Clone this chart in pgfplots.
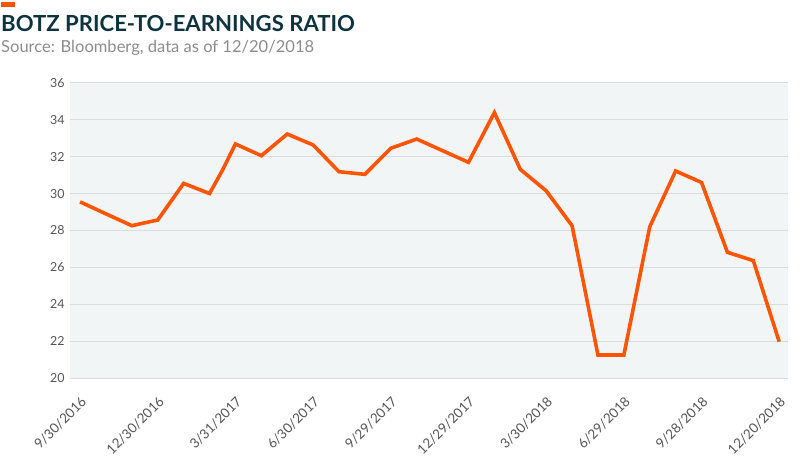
\documentclass[border=0pt]{standalone}
\usepackage{fontspec}
\setmainfont{Lato}
\usepackage{pgfplots}
\pgfplotsset{compat=1.18}
\definecolor{botzorange}{RGB}{255,85,0}
\definecolor{titleteal}{RGB}{14,51,62}
\definecolor{srcgrey}{RGB}{140,140,140}
\definecolor{tickgrey}{RGB}{85,85,85}
\definecolor{plotbg}{RGB}{242,245,246}
\definecolor{gridgrey}{RGB}{218,221,223}

\begin{document}
\begin{tikzpicture}[x=1bp,y=1bp]
\useasboundingbox (0,0) rectangle (800,471);
\fill[botzorange] (1,464) rectangle (15,469);
\node[anchor=base west, inner sep=0pt, text=titleteal, font=\fontsize{22.2}{26}\selectfont\bfseries] at (1,439.5) {BOTZ PRICE-TO-EARNINGS RATIO};
\node[anchor=base west, inner sep=0pt, text=srcgrey, font=\fontsize{16.6}{20}\selectfont] at (1,418) {Source: Bloomberg, data as of 12/20/2018};
\begin{axis}[
    at={(70bp,92.7bp)}, anchor=south west,
    scale only axis, width=718bp, height=295.6bp,
    xmin=-0.39, xmax=27.34, ymin=20, ymax=36,
    axis line style={draw=none},
    axis background/.style={fill=plotbg},
    ytick={20,22,...,36},
    xtick={0,3,...,27},
    xticklabels={9/30/2016,12/30/2016,3/31/2017,6/30/2017,9/29/2017,12/29/2017,3/30/2018,6/29/2018,9/28/2018,12/20/2018},
    ymajorgrids, major grid style={gridgrey, line width=1.2pt},
    major tick length=0pt,
    tick label style={text=tickgrey, font=\fontsize{12.5}{14}\selectfont},
    xticklabel style={font=\fontsize{13.5}{15}\selectfont, xshift=0bp, yshift=-12.5bp, rotate=45, anchor=north east},
    /pgf/number format/assume math mode=true,
    yticklabel style={xshift=-2bp},
    clip=false,
]
\addplot[botzorange, line width=3.6bp, line join=miter, miter limit=4] coordinates {
(0,29.55) (1,28.9) (2,28.26) (3,28.57) (4,30.55) (5,30.0) (5.5,31.27) (6,32.68)
(7,32.05) (8,33.22) (9,32.63) (10,31.18) (11,31.04) (12,32.45) (13,32.95) (14,32.32)
(15,31.69) (16,34.38) (17,31.31) (18,30.15) (19,28.26) (20,21.26) (21,21.26) (22,28.2)
(23,31.22) (24,30.6) (25,26.82) (26,26.37) (27,21.98)
};
\end{axis}
\end{tikzpicture}
\end{document}
